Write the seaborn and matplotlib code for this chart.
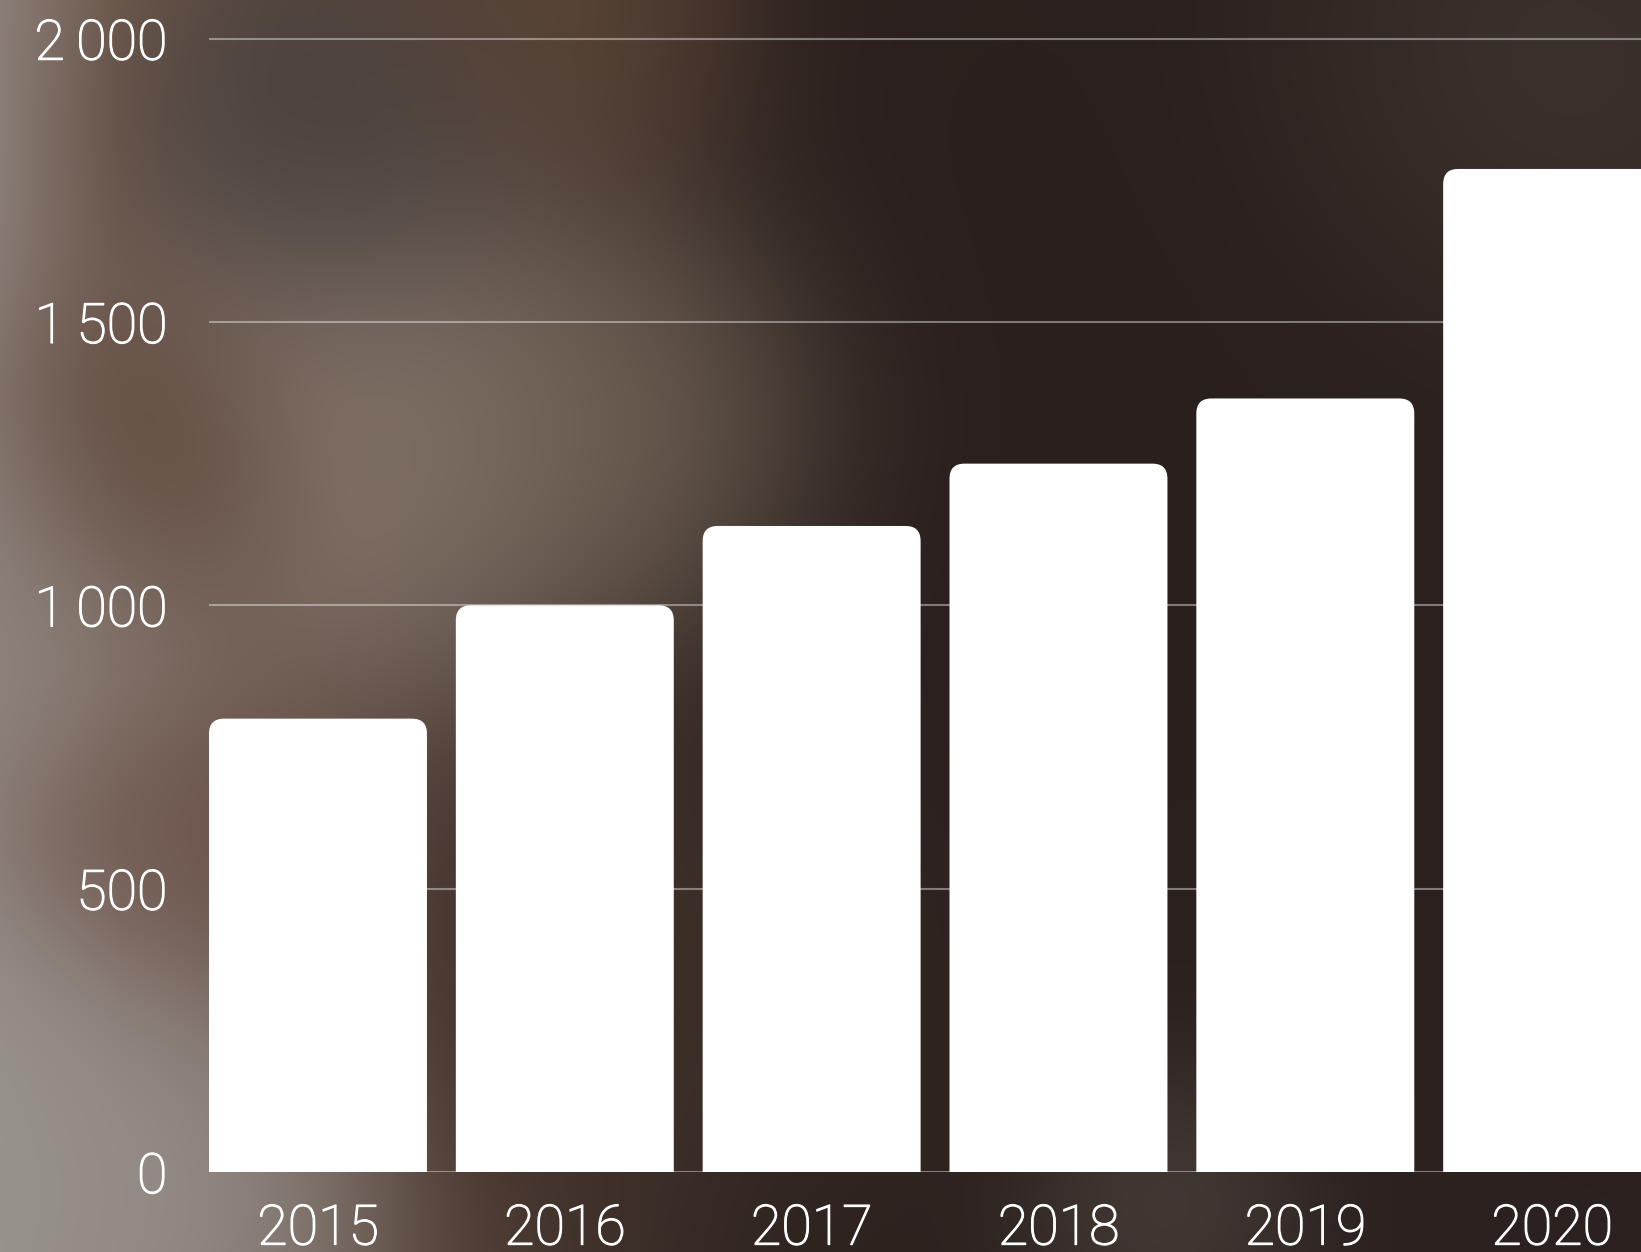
import numpy as np
import matplotlib
matplotlib.use("Agg")
import matplotlib.pyplot as plt
import matplotlib.patheffects as pe
import seaborn as sns
from matplotlib.patches import FancyBboxPatch

years = ["2015", "2016", "2017", "2018", "2019", "2020"]
values = [800, 1000, 1140, 1250, 1365, 1770]
y_ticks = [0, 500, 1000, 1500, 2000]
y_labels = ["0", "500", "1\u2009000", "1\u2009500", "2\u2009000"]

sns.set_theme(style="white")
plt.rcParams["font.family"] = ["Roboto", "DejaVu Sans"]

W, H = 1641, 1252
fig = plt.figure(figsize=(W / 100, H / 100), dpi=100)

# blurred photo backdrop, built from soft colour blobs
bg = fig.add_axes([0, 0, 1, 1], zorder=-10)
yy, xx = np.mgrid[0:H:4, 0:W:4].astype(float)
base_x = [0, 120, 350, 800, 1641]
base_c = np.array([[0.55, 0.50, 0.47], [0.45, 0.36, 0.31], [0.36, 0.28, 0.24],
                   [0.18, 0.14, 0.12], [0.17, 0.13, 0.12]])
acc = np.zeros(xx.shape + (3,))
wsum = np.full(xx.shape, 0.3)
for ch in range(3):
    acc[..., ch] = 0.3 * np.interp(xx, base_x, base_c[:, ch])
blobs = [
    (20, 600, 120, 1.5, (0.56, 0.52, 0.49)),
    (40, 1180, 150, 2.0, (0.60, 0.58, 0.56)),
    (160, 470, 90, 1.5, (0.34, 0.24, 0.20)),
    (210, 830, 110, 1.0, (0.43, 0.33, 0.30)),
    (360, 150, 110, 1.5, (0.27, 0.25, 0.24)),
    (420, 440, 150, 2.0, (0.56, 0.50, 0.46)),
    (640, 430, 120, 1.8, (0.48, 0.42, 0.36)),
    (550, 40, 120, 1.0, (0.40, 0.30, 0.24)),
    (1050, 500, 330, 2.0, (0.16, 0.12, 0.11)),
    (1520, 110, 150, 1.0, (0.27, 0.23, 0.20)),
    (1170, 1180, 80, 1.0, (0.32, 0.29, 0.27)),
    (680, 900, 150, 1.0, (0.28, 0.21, 0.18)),
    (1400, 800, 300, 1.0, (0.17, 0.13, 0.12)),
]
for bx, by, s, a, c in blobs:
    w = a * np.exp(-((xx - bx) ** 2 + (yy - by) ** 2) / (2 * s ** 2))
    wsum += w
    for ch in range(3):
        acc[..., ch] += w * c[ch]
img = acc / wsum[..., None]
bg.imshow(img, extent=[0, W, H, 0], aspect="auto", interpolation="bilinear")
bg.axis("off")

# main chart
ax_pos = [209 / W, 80 / H, 1 - 209 / W, 0.9279]
ax = fig.add_axes(ax_pos)
ax.set_facecolor("none")
sns.barplot(x=years, y=values, color="white", saturation=1, width=0.883, ax=ax)
xlim = (-0.4415, 5.36)
ylim = (0, 2050)
ax.set_xlim(xlim)
ax.set_ylim(ylim)

# round the top corners of the bars
r_px = 15
x_per_px = (xlim[1] - xlim[0]) / (ax_pos[2] * W)
y_per_px = (ylim[1] - ylim[0]) / (ax_pos[3] * H)
for p in list(ax.patches):
    x, w, h = p.get_x(), p.get_width(), p.get_height()
    p.remove()
    ext = 2 * r_px * y_per_px
    ax.add_patch(FancyBboxPatch(
        (x, -ext), w, h + ext,
        boxstyle=f"round,pad=0,rounding_size={r_px * x_per_px}",
        mutation_aspect=y_per_px / x_per_px,
        fc="white", ec="none", zorder=2))

ax.set_yticks(y_ticks, y_labels)
ax.grid(axis="y", color="white", alpha=0.4, lw=1.5)
ax.grid(axis="x", visible=False)
ax.set_axisbelow(True)
for sp in ax.spines.values():
    sp.set_visible(False)
ax.set_xlabel("")
ax.set_ylabel("")
ax.tick_params(axis="y", length=0, pad=30, labelsize=40, labelcolor="white")
ax.tick_params(axis="x", length=0, pad=22, labelsize=40, labelcolor="white")
for lab in ax.get_xticklabels() + ax.get_yticklabels():
    lab.set_fontweight("light")
    lab.set_path_effects([pe.withStroke(linewidth=0.9, foreground="white")])

fig.savefig("out.png", dpi=100)
